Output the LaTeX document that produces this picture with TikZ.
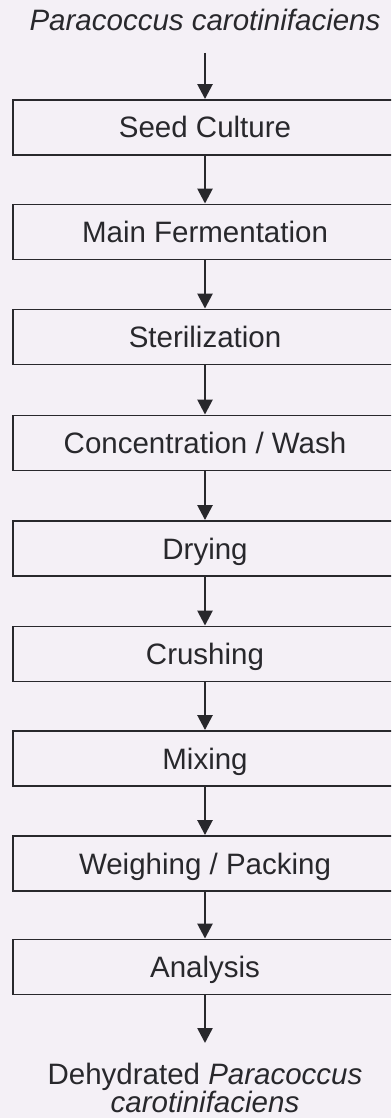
\documentclass[tikz,border=0pt]{standalone}
\usepackage{fontspec}
\setmainfont{Liberation Sans}
\usetikzlibrary{arrows.meta}
\definecolor{bgcol}{RGB}{244,240,246}
\definecolor{ink}{RGB}{40,40,44}
\begin{document}
\begin{tikzpicture}[x=1pt,y=-1pt,
  stepbox/.style={draw=ink, line width=1.9pt, rectangle, minimum width=384pt, minimum height=55pt,
    inner sep=0pt, text height=21pt, text depth=0pt, text=ink,
    font=\fontsize{29.5}{29.5}\selectfont},
  label/.style={text=ink, inner sep=0pt, font=\fontsize{29.5}{27.5}\selectfont},
  arr/.style={draw=ink, line width=2.6pt, -{Triangle[width=15pt,length=15pt]}}]
\useasboundingbox (0,0) rectangle (391,1118);
\clip (0,0) rectangle (391,1118);
\fill[bgcol] (0,0) rectangle (391,1118);
\node[label, anchor=base] (title) at (205,31) {\itshape Paracoccus carotinifaciens};
\coordinate (t0) at (205,53);
\node[stepbox] (s1) at (205,127.5) {Seed Culture};
\node[stepbox] (s2) at (205,232) {Main Fermentation};
\node[stepbox] (s3) at (205,337) {Sterilization};
\node[stepbox] (s4) at (205,443) {Concentration / Wash};
\node[stepbox] (s5) at (205,548.5) {Drying};
\node[stepbox] (s6) at (205,654) {Crushing};
\node[stepbox] (s7) at (205,758.5) {Mixing};
\node[stepbox] (s8) at (205,863.5) {Weighing / Packing};
\node[stepbox] (s9) at (205,967) {Analysis};
\coordinate (e0) at (205,1043);
\node[label, anchor=north, align=center] (out) at (205,1063) {Dehydrated \textit{Paracoccus}\\\textit{carotinifaciens}};
\draw[arr] (t0) -- (s1.north);
\draw[arr] (s1.south) -- (s2.north);
\draw[arr] (s2.south) -- (s3.north);
\draw[arr] (s3.south) -- (s4.north);
\draw[arr] (s4.south) -- (s5.north);
\draw[arr] (s5.south) -- (s6.north);
\draw[arr] (s6.south) -- (s7.north);
\draw[arr] (s7.south) -- (s8.north);
\draw[arr] (s8.south) -- (s9.north);
\draw[arr] (s9.south) -- (e0);
\end{tikzpicture}
\end{document}
